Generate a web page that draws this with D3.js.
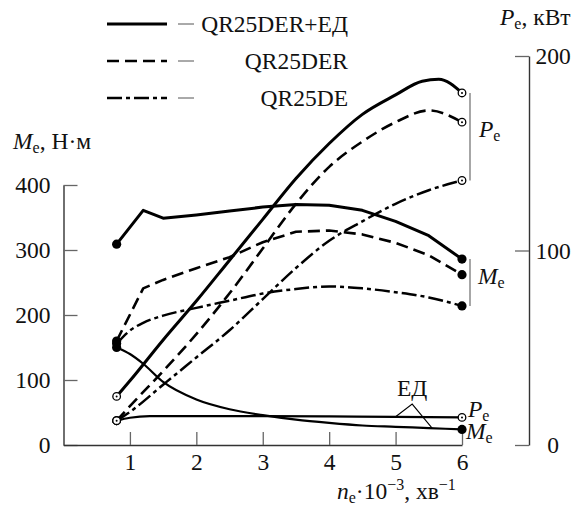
<!DOCTYPE html>
<html>
<head>
<meta charset="utf-8">
<script src="https://cdn.jsdelivr.net/npm/d3@7"></script>
<style>
body { margin: 0; background: #fff; }
</style>
</head>
<body>
<div id="chart"></div>
<script>
/**
 * Data (n_e in 1000 rpm, M_e in N·m, P_e in kW)
 */
var seriesNames = ["QR25DER+ЕД", "QR25DER", "QR25DE"];

var rpmHybridM = [0.8, 1.2, 1.5, 2, 2.5, 3, 3.5, 4, 4.5, 5, 5.5, 6];
var torqueHybrid = [309, 361, 349, 354, 360, 366, 370, 369, 361, 344, 322, 286];

var rpmDerM = [0.8, 1.2, 1.5, 2, 2.5, 3, 3.5, 4, 4.5, 5, 5.5, 6];
var torqueDer = [160, 241, 254, 272, 289, 312, 328, 330, 324, 311, 292, 262];

var rpmDeM = [0.8, 1, 1.2, 1.5, 2, 2.5, 3, 3.5, 4, 4.5, 5, 5.5, 6];
var torqueDe = [156, 176, 188, 199, 211, 222, 233, 240, 244, 241, 235, 227, 214];

var rpmMotorM = [0.8, 1, 1.2, 1.5, 2, 2.5, 3, 3.5, 4, 4.5, 5, 5.5, 6];
var torqueMotor = [150, 140, 125, 97, 70, 55, 46, 39, 34, 30, 28, 26, 24];

var rpmHybridP = [0.8, 1, 1.5, 2, 2.5, 3, 3.5, 4, 4.5, 5, 5.4, 5.65, 6];
var powerHybrid = [25, 33, 54, 74, 95, 116, 137, 155, 170, 180, 187, 188, 181];

var rpmDerP = [0.8, 1, 1.5, 2, 2.5, 3, 3.5, 4, 4.5, 5, 5.5, 6];
var powerDer = [12.5, 20, 38, 57, 78, 101, 124, 143, 156, 166, 172, 166];

var rpmDeP = [0.8, 1, 1.5, 2, 2.5, 3, 3.5, 4, 4.5, 5, 5.5, 6];
var powerDe = [12.5, 17, 31, 45, 59, 75, 91, 105, 115, 124, 131, 136];

var rpmMotorP = [0.8, 1, 1.3, 2, 3, 4, 5, 6];
var powerMotor = [12.5, 14, 14.8, 14.8, 14.8, 14.7, 14.5, 14.2];

var xTicks = [1, 2, 3, 4, 5, 6];
var torqueTicks = [0, 100, 200, 300, 400];
var powerTicks = [0, 100, 200];

/**
 * Layout
 */
var W = 574, H = 510;
var FONT = "'Liberation Serif'";
var x = d3.scaleLinear().domain([0, 6]).range([63.5, 462]);
var yM = d3.scaleLinear().domain([0, 400]).range([445, 185]);
var yP = d3.scaleLinear().domain([0, 200]).range([445, 56]);

var styles = {
	hybrid: { dash: null, width: 3 },
	der: { dash: "12,6", width: 2.6 },
	de: { dash: "15,4,4,4", width: 2.5 },
	motor: { dash: null, width: 2.2 }
};

var svg = d3.select("#chart").append("svg")
	.attr("width", W).attr("height", H);

// Variable name with subscript
function varLabel(g, px, py, letter, sub, rest) {
	var t = g.append("text").attr("x", px).attr("y", py);
	t.append("tspan").style("font-style", "italic").text(letter);
	t.append("tspan").attr("dy", 4).attr("class", "small").text(sub);
	if (rest) t.append("tspan").attr("dy", -4).text(rest);
	return t;
}

/**
 * Axes
 */
var fmt = d3.format("d");
var axisM = svg.append("g").attr("transform", "translate(" + x.range()[0] + ",0)")
	.call(d3.axisLeft(yM).tickValues(torqueTicks).tickFormat(fmt).tickSizeInner(-14).tickSizeOuter(0).tickPadding(13));
var axisX = svg.append("g").attr("transform", "translate(0," + yM(0) + ")")
	.call(d3.axisBottom(x).tickValues(xTicks).tickFormat(fmt).tickSizeInner(-13).tickSizeOuter(0).tickPadding(8));
var axisP = svg.append("g").attr("transform", "translate(529,0)")
	.call(d3.axisRight(yP).tickValues(powerTicks).tickFormat(fmt).tickSizeInner(-14).tickSizeOuter(0).tickPadding(8));

[axisM, axisX, axisP].forEach(function(a) {
	a.select(".domain").attr("stroke", "#333").attr("stroke-width", 1.4);
	a.selectAll(".tick line").attr("stroke", "#666").attr("stroke-width", 1.3);
});
axisP.selectAll(".tick text").attr("text-anchor", "middle").attr("x", 24);

// Axis titles
varLabel(svg, 13, 149, "M", "e", ", Н·м");
varLabel(svg, 500, 25, "P", "e", ", кВт");
var xt = svg.append("text").attr("x", 337).attr("y", 499);
xt.append("tspan").style("font-style", "italic").text("n");
xt.append("tspan").attr("dy", 4).attr("class", "small").text("e");
xt.append("tspan").attr("dy", -4).text("·10");
xt.append("tspan").attr("dy", -9).attr("class", "small").text("−3");
xt.append("tspan").attr("dy", 9).text(", хв");
xt.append("tspan").attr("dy", -9).attr("class", "small").text("−1");

/**
 * Curves
 */
var line = d3.line()
	.x(function(d) { return x(d[0]); });

function drawCurve(rpm, vals, scale, style, filled, curve) {
	var pts = d3.zip(rpm, vals);
	line.y(function(d) { return scale(d[1]); }).curve(curve || d3.curveMonotoneX);
	svg.append("path")
		.attr("d", line(pts))
		.attr("fill", "none")
		.attr("stroke", "#000")
		.attr("stroke-width", style.width)
		.attr("stroke-dasharray", style.dash)
		.attr("stroke-linejoin", "round");
	var ends = [pts[0], pts[pts.length - 1]];
	ends.forEach(function(p) {
		if (filled) {
			svg.append("circle").attr("cx", x(p[0])).attr("cy", scale(p[1]))
				.attr("r", 4.6).attr("fill", "#000");
		} else {
			svg.append("circle").attr("cx", x(p[0])).attr("cy", scale(p[1]))
				.attr("r", 3.8).attr("fill", "#fff").attr("stroke", "#000").attr("stroke-width", 1.3);
			svg.append("circle").attr("cx", x(p[0])).attr("cy", scale(p[1]))
				.attr("r", 1).attr("fill", "#000");
		}
	});
}

drawCurve(rpmMotorP, powerMotor, yP, styles.motor, false);
drawCurve(rpmMotorM, torqueMotor, yM, styles.motor, true);
drawCurve(rpmDeP, powerDe, yP, styles.de, false);
drawCurve(rpmDerP, powerDer, yP, styles.der, false);
drawCurve(rpmHybridP, powerHybrid, yP, styles.hybrid, false);
drawCurve(rpmDeM, torqueDe, yM, styles.de, true);
drawCurve(rpmDerM, torqueDer, yM, styles.der, true, d3.curveLinear);
drawCurve(rpmHybridM, torqueHybrid, yM, styles.hybrid, true, d3.curveLinear);

/**
 * Brackets and curve labels
 */
var xEnd = x(6);
var pEnds = [powerHybrid, powerDer, powerDe].map(function(a) { return a[a.length - 1]; });
var mEnds = [torqueHybrid, torqueDer, torqueDe].map(function(a) { return a[a.length - 1]; });

svg.append("line").attr("x1", xEnd + 8).attr("x2", xEnd + 8)
	.attr("y1", yP(d3.max(pEnds))).attr("y2", yP(d3.min(pEnds)))
	.attr("stroke", "#777").attr("stroke-width", 1.3);
varLabel(svg, 479, 137, "P", "e");

svg.append("line").attr("x1", xEnd + 8).attr("x2", xEnd + 8)
	.attr("y1", yM(d3.max(mEnds))).attr("y2", yM(d3.min(mEnds)))
	.attr("stroke", "#777").attr("stroke-width", 1.3);
varLabel(svg, 478, 284, "M", "e");

varLabel(svg, 468, 417, "P", "e");
varLabel(svg, 466, 439, "M", "e");

// ЕД leader
var apex = [x(5.25), yM(63)];
svg.append("path")
	.attr("d", d3.line()([[x(5.0), yP(14.5)], apex, [x(5.55), yM(26)]]))
	.attr("fill", "none").attr("stroke", "#000").attr("stroke-width", 1.1);
svg.append("text").attr("x", apex[0]).attr("y", 396).attr("text-anchor", "middle").text("ЕД");

/**
 * Legend
 */
var legendRows = [24, 61, 98];
var legendStyles = [styles.hybrid, styles.der, styles.de];
seriesNames.forEach(function(name, i) {
	var ly = legendRows[i];
	svg.append("line").attr("x1", 107).attr("x2", 167).attr("y1", ly).attr("y2", ly)
		.attr("stroke", "#000").attr("stroke-width", legendStyles[i].width)
		.attr("stroke-dasharray", legendStyles[i].dash);
	svg.append("line").attr("x1", 178).attr("x2", 194).attr("y1", ly).attr("y2", ly)
		.attr("stroke", "#555").attr("stroke-width", 1);
	svg.append("text").attr("x", 348).attr("y", ly + 8).attr("text-anchor", "end").text(name);
});

// Font for every text (inline, so it wins over axis defaults)
svg.selectAll("text")
	.style("font-family", FONT)
	.style("font-size", "23.5px")
	.style("fill", "#111");
svg.selectAll("tspan.small").style("font-size", "16px");
</script>
</body>
</html>
